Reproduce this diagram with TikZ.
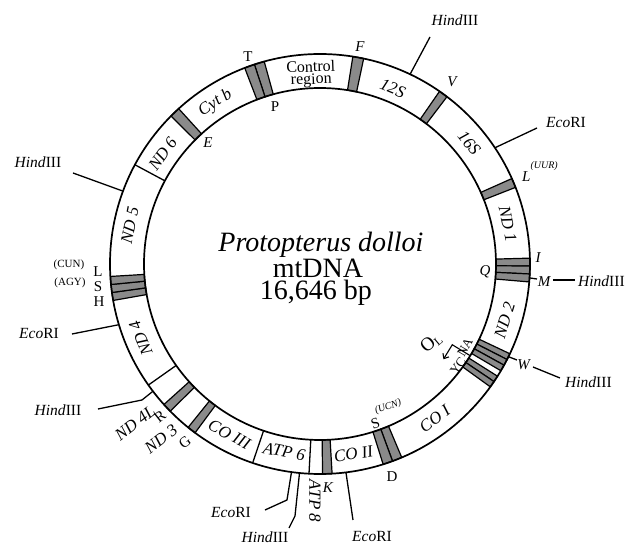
\documentclass[tikz,border=0pt]{standalone}
\usepackage{fontspec}
\setmainfont{Liberation Serif}
\usetikzlibrary{arrows.meta}
\definecolor{bandgray}{RGB}{138,138,138}
\newcommand{\hindtxt}{\textit{Hind}III}
\newcommand{\ecotxt}{\textit{Eco}RI}
\newcommand{\gband}[2]{%
  \path[bandfill] (#1:176) arc[start angle=#1, end angle=#2, radius=176]
    -- (#2:210) arc[start angle=#2, end angle=#1, radius=210] -- cycle;}
\newcommand{\gsep}[1]{\draw[sep] (#1:176) -- (#1:210);}
\begin{document}
\begin{tikzpicture}[x=1pt,y=1pt,
  ringline/.style={line width=1.7pt},
  sep/.style={line width=1.3pt},
  bandfill/.style={fill=bandgray, draw=black, line width=1.2pt},
  gene/.style={font=\fontsize{17}{17}\selectfont\itshape, inner sep=0pt},
  trna/.style={font=\fontsize{15}{15}\selectfont\itshape, inner sep=0pt},
  trnaup/.style={font=\fontsize{15}{15}\selectfont, inner sep=0pt},
  enz/.style={font=\fontsize{15.5}{15.5}\selectfont, inner sep=0pt},
  smalllab/.style={font=\fontsize{11}{11}\selectfont, inner sep=0pt},
  cut/.style={line width=1.3pt},
  bigtext/.style={font=\fontsize{28}{28}\selectfont, inner sep=0pt, anchor=base}]

\useasboundingbox (-320,-281) rectangle (313,264);
\fill[white] (-320,-281) rectangle (313,264);
\coordinate (ctr) at (0,0);

% ---- tRNA bands ----
\gband{105.4}{108.2}  % P
\gband{108.2}{111}    % T
\gband{78}{81}        % F
\gband{52.8}{55.3}    % V
\gband{21.4}{24}      % L(UUR)
\gband{-0.57}{1.6}    % I
\gband{-2.73}{-0.57}  % Q
\gband{-4.9}{-2.73}   % M
\gband{-27.05}{-25.3} % W
\gband{-28.8}{-27.05} % A
\gband{-30.55}{-28.8} % N
\gband{-34.05}{-32.3} % C
\gband{-35.8}{-34.05} % Y
\gband{-69.8}{-67.1}  % S(UCN)
\gband{-72.5}{-69.8}  % D
\gband{-89.3}{-86.7}  % K
\gband{-128.9}{-126.5}% G
\gband{-138}{-135.5}  % R
\gband{187.8}{190}    % H
\gband{185.6}{187.8}  % S(AGY)
\gband{183.4}{185.6}  % L(CUN)
\gband{132.3}{135.2}  % E

% ---- plain gene boundaries ----
\gsep{-93}
\gsep{-108.7}
\gsep{-144.8}
\gsep{151.8}

% ---- ring ----
\draw[ringline] (ctr) circle[radius=210];
\draw[ringline] (ctr) circle[radius=176];

% ---- centre text ----
\node[bigtext, font=\fontsize{28}{28}\selectfont\itshape] (title) at (1,12) {Protopterus dolloi};
\node[bigtext] (mtdna) at (-2,-14) {mtDNA};
\node[bigtext] (size) at (-4,-36) {16,646 bp};

% ---- gene labels ----
\node[font=\fontsize{16}{12}\selectfont, align=center, inner sep=0pt, rotate=2] (ctrl) at (92.7:190) {Control\\region};
\node[gene, rotate=-22.5] (g12s) at (67.5:190) {12S};
\node[gene, rotate=-51] (g16s) at (39:192) {16S};
\node[gene, rotate=-78] (gnd1) at (12:192) {ND 1};
\node[gene, rotate=73] (gnd2) at (-17:193) {ND 2};
\node[gene, rotate=37] (gco1) at (-53.5:193) {CO I};
\node[gene, rotate=10] (gco2) at (-80:193) {CO II};
\node[gene, rotate=-11] (gatp6) at (-100.8:191) {ATP 6};
\node[gene, rotate=-28] (gco3) at (-118:193) {CO III};
\node[gene, rotate=112.5] (gnd4) at (202.5:194) {ND 4};
\node[gene, rotate=78.5] (gnd5) at (168.5:194) {ND 5};
\node[gene, rotate=55] (gnd6) at (145:192) {ND 6};
\node[gene, rotate=33] (gcytb) at (123:192) {Cyt b};

% ---- outside / inside small labels ----
\node[trnaup] (lT) at (-72,207) {T};
\node[trnaup] (lP) at (-45,157) {P};
\node[trna] (lF) at (40,217) {F};
\node[trna] (lV) at (132,182) {V};
\node[trna, anchor=base west] (lUUR) at (202,82) {L\raisebox{13pt}{\fontsize{10}{10}\selectfont\itshape (UUR)}};
\node[trna] (lI) at (218,6) {I};
\node[trna] (lQ) at (165,-8) {Q};
\node[trna] (lM) at (224,-18) {M};
\node[trna] (lW) at (203.5,-101) {W};
\node[font=\fontsize{13}{13}\selectfont, inner sep=0pt, rotate=60] (lNA) at (145,-83) {NA};
\node[font=\fontsize{13}{13}\selectfont, inner sep=0pt, rotate=55] (lYC) at (138,-102) {YC};
\node[font=\fontsize{19}{19}\selectfont, inner sep=0pt, rotate=40] (lOL) at (111,-79) {O\raisebox{-2pt}{\fontsize{12}{12}\selectfont L}};
\node[trnaup, anchor=base west, rotate=20] (lSUCN) at (53,-166) {S\raisebox{14pt}{\fontsize{10}{10}\selectfont\itshape (UCN)}};
\node[trnaup] (lD) at (72,-213) {D};
\node[trna] (lK) at (8,-224) {K};
\node[gene, rotate=-90] (gatp8) at (-5,-237) {ATP 8};
\node[trnaup, rotate=38] (lG) at (-135,-178) {G};
\node[trnaup, rotate=38] (lR) at (-160,-153) {R};
\node[gene, rotate=38] (gnd3) at (-159,-175) {ND 3};
\node[gene, rotate=38] (gnd4l) at (-185,-159) {ND 4L};
\node[trna] (lE) at (-112,121) {E};
\node[trnaup] (lL) at (-222,-8) {L};
\node[trnaup] (lS) at (-222,-23) {S};
\node[trnaup] (lH) at (-221,-37.5) {H};
\node[smalllab] (lCUN) at (-251,-1) {(CUN)};
\node[smalllab] (lAGY) at (-250,-19) {(AGY)};

% ---- O_L arrow ----
\coordinate (olA) at (-31.4:176);
\coordinate (olB) at (-31.4:155);
\draw[line width=1.1pt, -{Straight Barb[length=4pt,width=7pt]}] (olA) -- (olB) -- ++(-121.4:17);

% ---- restriction sites ----
\coordinate (sH1) at (64.6:210);   \coordinate (eH1) at (110,227);
\draw[cut] (sH1) -- (eH1);
\node[enz] (tH1) at (135,244) {\hindtxt};

\coordinate (sE1) at (33.6:210);   \coordinate (eE1) at (217,136);
\draw[cut] (sE1) -- (eE1);
\node[enz] (tE1) at (246,141) {\ecotxt};

\coordinate (sHM) at (-3.8:210);   \coordinate (eHMa) at (217,-15);
\coordinate (eHMb) at (233,-16);   \coordinate (eHMc) at (255,-16);
\draw[cut] (sHM) -- (eHMa);
\draw[cut] (eHMb) -- (eHMc);
\node[enz, anchor=west] (tHM) at (258,-17) {\hindtxt};

\coordinate (sHW) at (-26.2:210);  \coordinate (eHWa) at (197,-96);
\coordinate (eHWb) at (213,-103);  \coordinate (eHWc) at (240,-114);
\draw[cut] (sHW) -- (eHWa);
\draw[cut] (eHWb) -- (eHWc);
\node[enz, anchor=west] (tHW) at (245,-118) {\hindtxt};

\coordinate (sE2) at (-82.9:210);  \coordinate (eE2) at (33,-256);
\draw[cut] (sE2) -- (eE2);
\node[enz] (tE2) at (52,-273) {\ecotxt};

\coordinate (sE3) at (-97.8:210);  \coordinate (mE3) at (-33,-236); \coordinate (eE3) at (-55,-246);
\draw[cut] (sE3) -- (mE3) -- (eE3);
\node[enz] (tE3) at (-89,-249) {\ecotxt};

\coordinate (sH3) at (-95.6:210);  \coordinate (mH3) at (-25,-252); \coordinate (eH3) at (-31,-264);
\draw[cut] (sH3) -- (mH3) -- (eH3);
\node[enz] (tH3) at (-55,-273) {\hindtxt};

\coordinate (sH4) at (-142.7:210); \coordinate (mH4) at (-178,-136); \coordinate (eH4) at (-222,-145);
\draw[cut] (sH4) -- (mH4) -- (eH4);
\node[enz] (tH4) at (-262,-146) {\hindtxt};

\coordinate (sE4) at (196.8:210);  \coordinate (eE4) at (-248,-70);
\draw[cut] (sE4) -- (eE4);
\node[enz] (tE4) at (-281,-70) {\ecotxt};

\coordinate (sH5) at (159.7:210);  \coordinate (eH5) at (-247,91);
\draw[cut] (sH5) -- (eH5);
\node[enz] (tH5) at (-282,102) {\hindtxt};

\end{tikzpicture}
\end{document}
